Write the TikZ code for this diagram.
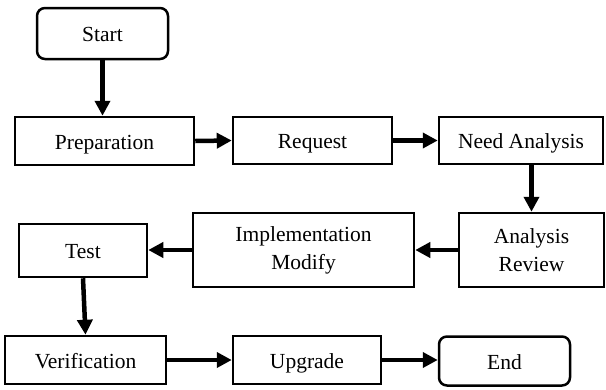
\documentclass[tikz,border=0pt]{standalone}
\usepackage{fontspec}
\setmainfont{Liberation Serif}
\usetikzlibrary{arrows.meta}

\begin{document}
\begin{tikzpicture}[x = 1pt, y = -1pt, > = {Triangle[length = 15pt, width = 15pt]},
	box/.style = {draw, line width = 2.5pt, inner sep = 0pt, align = center,
		font = \fontsize{21.5}{28}\selectfont},
	single/.style = {box, text height = 22pt, text depth = 6pt},
	term/.style = {single, rounded corners = 8pt},
	flow/.style = {->, line width = 4.5pt}]

	\useasboundingbox (0, 0) rectangle (606, 389);

	% Boxes

	\node [term, minimum width = 131, minimum height = 51] (start) at (102.5, 33.5) {Start};
	\node [single, minimum width = 179, minimum height = 48] (prep) at (104.5, 141) {Preparation};
	\node [single, minimum width = 159, minimum height = 47] (request) at (312.5, 140.5) {Request};
	\node [single, minimum width = 164, minimum height = 47] (need) at (521, 140.5) {Need Analysis};
	\node [box, minimum width = 145, minimum height = 74] (review) at (531.5, 250) {Analysis\\Review};
	\node [box, minimum width = 221, minimum height = 74] (impl) at (303.5, 250) {Implementation\\Modify};
	\node [single, minimum width = 128, minimum height = 53] (test) at (83, 250.5) {Test};
	\node [single, minimum width = 161, minimum height = 48] (verif) at (85.5, 360) {Verification};
	\node [single, minimum width = 148, minimum height = 48] (upgrade) at (307, 360) {Upgrade};
	\node [term, minimum width = 131, minimum height = 49] (end) at (504.5, 361) {End};

	% Arrows

	\draw [flow] (start.south) -- (start.south |- prep.north);
	\draw [flow] (prep.east) -- (request.west);
	\draw [flow] (request.east) -- (need.west);
	\draw [flow] (need.south -| review.north) -- (review.north);
	\draw [flow] (review.west) -- (impl.east);
	\draw [flow] (impl.west) -- (impl.west -| test.east);
	\draw [flow] (test.south) -- (verif.north);
	\draw [flow] (verif.east) -- (upgrade.west);
	\draw [flow] (upgrade.east) -- (upgrade.east -| end.west);

\end{tikzpicture}
\end{document}
